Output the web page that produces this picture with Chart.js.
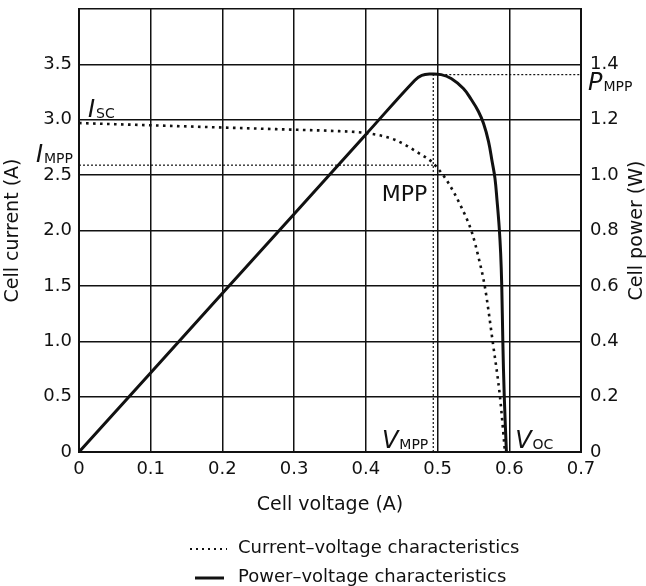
<!DOCTYPE html>
<html>
<head>
<meta charset="utf-8">
<script src="https://cdn.jsdelivr.net/npm/chart.js@4.4.1/dist/chart.umd.min.js"></script>
<style>
  html, body { margin: 0; padding: 0; background: #fff; }
  #wrap { width: 646px; height: 586px; }
</style>
</head>
<body>
<div id="wrap"><canvas id="chart" width="646" height="586"></canvas></div>
<script>
'use strict';

// current-voltage characteristic (dotted)
const ivVolts = [0, 0.05, 0.1, 0.15, 0.2, 0.25, 0.3, 0.35, 0.4, 0.44, 0.476, 0.492, 0.503, 0.515, 0.531, 0.548, 0.557, 0.566, 0.577, 0.587, 0.594];
const ivAmps = [2.97, 2.96, 2.95, 2.94, 2.93, 2.92, 2.91, 2.90, 2.88, 2.82, 2.69, 2.62, 2.54, 2.43, 2.24, 1.98, 1.76, 1.49, 0.99, 0.50, 0];

// power-voltage characteristic (solid)
const pvVolts = [0, 0.2, 0.4, 0.468, 0.478, 0.49, 0.505, 0.519, 0.536, 0.547, 0.557, 0.564, 0.571, 0.576, 0.58, 0.583, 0.586, 0.588, 0.5895, 0.591, 0.593, 0.596];
const pvWatts = [0, 0.573, 1.147, 1.342, 1.36, 1.365, 1.363, 1.349, 1.313, 1.273, 1.23, 1.187, 1.122, 1.05, 0.989, 0.906, 0.809, 0.716, 0.6, 0.4, 0.2, 0];

// maximum power point, short circuit, open circuit
const vMpp = 0.494;
const iMpp = 2.59;
const pMpp = 1.363;
const iSc = 2.97;
const vOc = 0.597;

// axis ticks
const voltTicks = [0, 0.1, 0.2, 0.3, 0.4, 0.5, 0.6, 0.7];
const voltLabels = ['0', '0.1', '0.2', '0.3', '0.4', '0.5', '0.6', '0.7'];
const currentTicks = [0, 0.5, 1.0, 1.5, 2.0, 2.5, 3.0, 3.5, 4.0];
const currentLabels = ['0', '0.5', '1.0', '1.5', '2.0', '2.5', '3.0', '3.5', ''];
const powerTicks = [0, 0.2, 0.4, 0.6, 0.8, 1.0, 1.2, 1.4, 1.6];
const powerLabels = ['0', '0.2', '0.4', '0.6', '0.8', '1.0', '1.2', '1.4', ''];

const ink = '#111';
const face = '"DejaVu Sans", sans-serif';

const toPoints = (xs, ys) => xs.map((x, i) => ({ x, y: ys[i] }));
const setTicks = (values) => (scale) => { scale.ticks = values.map((value) => ({ value })); };

const fitVertical = (width) => (scale) => {
  scale.width = width;
  scale.paddingTop = 0;
  scale.paddingBottom = 0;
};

const refLine = (data, axis) => ({
  data,
  yAxisID: axis,
  borderColor: ink,
  borderWidth: 1.2,
  borderDash: [2, 2],
  pointRadius: 0,
  order: 2,
});

// italic symbol with an upright subscript, e.g. I_SC
const drawSymbol = (ctx, x, y, main, sub, align) => {
  ctx.font = `italic 24px ${face}`;
  const mw = ctx.measureText(main).width;
  ctx.font = `14px ${face}`;
  const sw = ctx.measureText(sub).width;
  const x0 = align === 'right' ? x - mw - sw : x;
  ctx.textAlign = 'left';
  ctx.textBaseline = 'alphabetic';
  ctx.font = `italic 24px ${face}`;
  ctx.fillText(main, x0, y);
  ctx.font = `14px ${face}`;
  ctx.fillText(sub, x0 + mw + 1, y + 1);
};

const annotations = {
  id: 'annotations',
  afterDraw(chart) {
    const { ctx, chartArea, scales: { x, yI, yP } } = chart;
    ctx.save();
    ctx.fillStyle = ink;

    drawSymbol(ctx, x.getPixelForValue(0) + 9, yI.getPixelForValue(iSc) - 6, 'I', 'SC');
    drawSymbol(ctx, chartArea.left - 7, yI.getPixelForValue(iMpp) - 3, 'I', 'MPP', 'right');
    drawSymbol(ctx, chartArea.right + 7, yP.getPixelForValue(pMpp) + 15, 'P', 'MPP');
    drawSymbol(ctx, x.getPixelForValue(vMpp) - 6, chartArea.bottom - 4, 'V', 'MPP', 'right');
    drawSymbol(ctx, x.getPixelForValue(vOc) + 8, chartArea.bottom - 4, 'V', 'OC');

    ctx.font = `22px ${face}`;
    ctx.textAlign = 'right';
    ctx.textBaseline = 'alphabetic';
    ctx.fillText('MPP', x.getPixelForValue(vMpp) - 6, yI.getPixelForValue(iMpp) + 36);

    // right axis title, reading upwards
    ctx.save();
    ctx.translate(637, (chartArea.top + chartArea.bottom) / 2);
    ctx.rotate(-Math.PI / 2);
    ctx.font = `19px ${face}`;
    ctx.textAlign = 'center';
    ctx.textBaseline = 'middle';
    ctx.fillText('Cell power (W)', 0, 0);
    ctx.restore();

    // legend
    ctx.strokeStyle = ink;
    ctx.lineWidth = 2;
    ctx.setLineDash([2, 4]);
    ctx.beginPath();
    ctx.moveTo(190, 549);
    ctx.lineTo(227, 549);
    ctx.stroke();
    ctx.setLineDash([]);
    ctx.lineWidth = 3;
    ctx.beginPath();
    ctx.moveTo(195, 578);
    ctx.lineTo(224, 578);
    ctx.stroke();

    ctx.font = `18px ${face}`;
    ctx.textAlign = 'left';
    ctx.textBaseline = 'middle';
    ctx.fillText('Current\u2013voltage characteristics', 238, 548);
    ctx.fillText('Power\u2013voltage characteristics', 238, 577);
    ctx.restore();
  },
};

const ctx = document.querySelector('#chart');

new Chart(ctx, {
  type: 'line',
  data: {
    datasets: [
      {
        label: 'Current\u2013voltage characteristics',
        data: toPoints(ivVolts, ivAmps),
        yAxisID: 'yI',
        borderColor: ink,
        borderWidth: 2.6,
        borderDash: [2.6, 4.4],
        cubicInterpolationMode: 'monotone',
        pointRadius: 0,
        order: 1,
      },
      {
        label: 'Power\u2013voltage characteristics',
        data: toPoints(pvVolts, pvWatts),
        yAxisID: 'yP',
        borderColor: ink,
        borderWidth: 3,
        tension: 0.4,
        pointRadius: 0,
        order: 0,
      },
      refLine([{ x: 0, y: iMpp }, { x: vMpp, y: iMpp }], 'yI'),
      refLine([{ x: vMpp, y: 0 }, { x: vMpp, y: pMpp }], 'yP'),
      refLine([{ x: vMpp, y: pMpp }, { x: 0.7, y: pMpp }], 'yP'),
    ],
  },
  options: {
    responsive: false,
    animation: false,
    devicePixelRatio: 1,
    layout: { padding: { top: 9 } },
    plugins: {
      legend: { display: false },
      tooltip: { enabled: false },
    },
    scales: {
      x: {
        type: 'linear',
        min: 0,
        max: 0.7,
        afterBuildTicks: setTicks(voltTicks),
        afterFit: (scale) => {
          scale.height = 134;
          scale.paddingLeft = 0;
          scale.paddingRight = 0;
        },
        ticks: {
          callback: (value, i) => voltLabels[i],
          color: ink,
          font: { family: face, size: 18 },
          padding: 7,
          maxRotation: 0,
          autoSkip: false,
        },
        grid: { color: ink, lineWidth: 1.5, drawTicks: false },
        border: { color: ink, width: 2 },
        title: {
          display: true,
          text: 'Cell voltage (A)',
          color: ink,
          font: { family: face, size: 19 },
          padding: { top: 0, bottom: 70 },
        },
      },
      yI: {
        type: 'linear',
        position: 'left',
        min: 0,
        max: 4,
        afterBuildTicks: setTicks(currentTicks),
        afterFit: fitVertical(79),
        ticks: {
          callback: (value, i) => currentLabels[i],
          color: ink,
          font: { family: face, size: 18 },
          padding: 7,
          autoSkip: false,
        },
        grid: { color: ink, lineWidth: 1.5, drawTicks: false },
        border: { color: ink, width: 2 },
        title: {
          display: true,
          text: 'Cell current (A)',
          color: ink,
          font: { family: face, size: 19 },
          padding: { top: 2, bottom: 0 },
        },
      },
      yP: {
        type: 'linear',
        position: 'right',
        min: 0,
        max: 1.6,
        afterBuildTicks: setTicks(powerTicks),
        afterFit: fitVertical(65),
        ticks: {
          callback: (value, i) => powerLabels[i],
          color: ink,
          font: { family: face, size: 18 },
          padding: 9,
          autoSkip: false,
        },
        grid: { drawOnChartArea: false, drawTicks: false },
        border: { color: ink, width: 2 },
      },
    },
  },
  plugins: [annotations],
});
</script>
</body>
</html>
